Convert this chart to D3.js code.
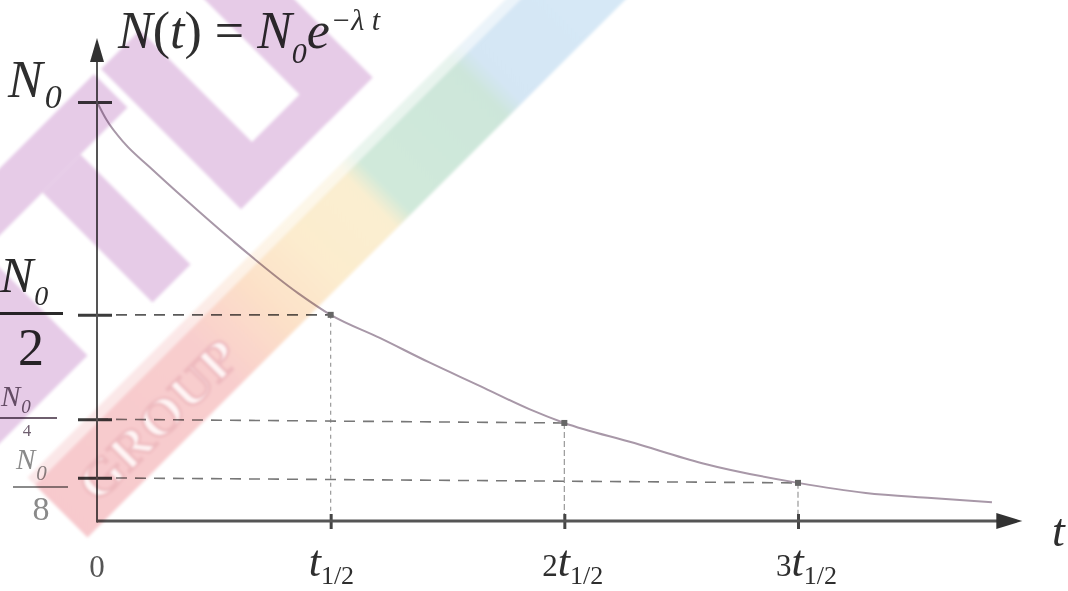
<!DOCTYPE html>
<html>
<head>
<meta charset="utf-8">
<script src="https://cdn.jsdelivr.net/npm/d3@7"></script>
<style>
  html, body { margin: 0; padding: 0; background: #fff; }
  svg { display: block; }
  text { font-family: "Liberation Serif", "DejaVu Serif", serif; }
</style>
</head>
<body>
<div id="ChartWrapper"></div>
<script>
// values, in units of N0 and of t1/2
const curveT = [0, 0.04, 0.12, 0.225, 0.381, 0.576, 0.86, 1.0, 1.21, 1.42, 1.64, 1.85, 2.0, 2.3, 2.59, 3.0, 3.29, 3.57, 3.83];
const curveN = [1.0, 0.958, 0.9, 0.845, 0.766, 0.671, 0.544, 0.492, 0.437, 0.379, 0.322, 0.267, 0.234, 0.186, 0.138, 0.091, 0.067, 0.055, 0.045];

const halfLives = [1, 2, 3];
const halfLifeN = [0.492, 0.234, 0.091];
const halfLifePrefix = ["", "2", "3"];

const yTickVals = [1, 0.492, 0.243, 0.103];
const yTickDenoms = [null, "2", "4", "8"];

const Width = 1068;
const Height = 591;

const ScaleX = d3.scaleLinear().domain([0, 3]).range([97, 798]);
const ScaleY = d3.scaleLinear().domain([0, 1]).range([521, 102]);
const XEnd = 3.96;   // end of the t axis (arrow tip)
const YEnd = 1.153;  // end of the N axis (arrow tip)

let Canvas = d3.select("#ChartWrapper").append("svg")
    .attr("width", Width).attr("height", Height);

let Defs = Canvas.append("defs");
Defs.append("filter").attr("id", "soft").attr("x", "-5%").attr("y", "-5%")
    .attr("width", "110%").attr("height", "110%")
    .append("feGaussianBlur").attr("stdDeviation", 0.55);
Defs.append("filter").attr("id", "wmblur")
    .append("feGaussianBlur").attr("stdDeviation", 1.6);

Canvas.append("rect").attr("width", Width).attr("height", Height).attr("fill", "#fff");

let Plot = Canvas.append("g").attr("filter", "url(#soft)");

// dashed guides from the N axis to the curve, dotted ones down to the t axis
halfLives.forEach((h, i) => {
    Plot.append("line")
        .attr("x1", ScaleX(0)).attr("y1", ScaleY(yTickVals[i + 1]))
        .attr("x2", ScaleX(h)).attr("y2", ScaleY(halfLifeN[i]))
        .attr("stroke", i == 0 ? "#5a5a5a" : "#777").attr("stroke-width", 1.6)
        .attr("stroke-dasharray", "11 8");
    Plot.append("line")
        .attr("x1", ScaleX(h)).attr("y1", ScaleY(halfLifeN[i]))
        .attr("x2", ScaleX(h)).attr("y2", ScaleY(0))
        .attr("stroke", "#999").attr("stroke-width", 1.2)
        .attr("stroke-dasharray", i == 0 ? "4 4" : "6 3");
});

// decay curve
const Data = curveT.map((t, i) => ({t: t, n: curveN[i]}));
let Line = d3.line().x(pp => ScaleX(pp.t)).y(pp => ScaleY(pp.n)).curve(d3.curveMonotoneX);
Plot.append("path").attr("d", Line(Data))
    .attr("fill", "none").attr("stroke", "#a898a8").attr("stroke-width", 2);

Plot.selectAll("rect.mark").data(halfLives).join("rect").attr("class", "mark")
    .attr("x", (h) => ScaleX(h) - 3).attr("y", (h, i) => ScaleY(halfLifeN[i]) - 3)
    .attr("width", 6).attr("height", 6).attr("fill", "#666");

// axes
let AxisX = d3.axisBottom(ScaleX).tickValues(halfLives).tickFormat("").tickSizeOuter(0);
let GX = Plot.append("g").attr("transform", `translate(0, ${ScaleY(0)})`).call(AxisX);
GX.select(".domain").remove();
GX.selectAll(".tick line").attr("y1", -7).attr("y2", 8).attr("stroke", "#444").attr("stroke-width", 3);

let AxisY = d3.axisLeft(ScaleY).tickValues(yTickVals).tickFormat("").tickSizeOuter(0);
let GY = Plot.append("g").attr("transform", `translate(${ScaleX(0)}, 0)`).call(AxisY);
GY.select(".domain").remove();
GY.selectAll(".tick line").attr("x1", -19).attr("x2", 15).attr("stroke", "#3a3a3a").attr("stroke-width", 3);

Plot.append("line")
    .attr("x1", ScaleX(0)).attr("y1", ScaleY(0))
    .attr("x2", ScaleX(XEnd) - 20).attr("y2", ScaleY(0))
    .attr("stroke", "#555").attr("stroke-width", 3);
Plot.append("line")
    .attr("x1", ScaleX(0)).attr("y1", ScaleY(0) + 1.5)
    .attr("x2", ScaleX(0)).attr("y2", ScaleY(YEnd) + 20)
    .attr("stroke", "#555").attr("stroke-width", 2);

const ax = ScaleX(XEnd), ay = ScaleY(0);
Plot.append("path").attr("d", `M${ax},${ay} L${ax - 26},${ay - 8} L${ax - 26},${ay + 8} Z`).attr("fill", "#333");
const bx = ScaleX(0), by = ScaleY(YEnd);
Plot.append("path").attr("d", `M${bx},${by} L${bx - 7},${by + 24} L${bx + 7},${by + 24} Z`).attr("fill", "#333");

// text
function Subscripted(sel, x, y, parts)
{
    let T = sel.append("text").attr("x", x).attr("y", y);
    parts.forEach(pp => {
        T.append("tspan").text(pp.s)
            .attr("font-size", pp.size)
            .attr("font-style", pp.it ? "italic" : "normal")
            .attr("dy", pp.dy || 0).attr("dx", pp.dx || 0);
    });
    return T;
}

let Txt = Plot.append("g").attr("fill", "#2e2e2e");

// formula N(t) = N0 e^(-λt)
Subscripted(Txt, 118, 48, [
    {s: "N", size: 52, it: true}, {s: "(", size: 52}, {s: "t", size: 52, it: true},
    {s: ") = ", size: 52}, {s: "N", size: 52, it: true},
    {s: "0", size: 30, it: true, dy: 15},
    {s: "e", size: 52, it: true, dy: -15},
    {s: "−λ t", size: 30, it: true, dy: -18, dx: 1}
]);

// N axis labels
Subscripted(Txt, 8, ScaleY(yTickVals[0]) - 5, [
    {s: "N", size: 52, it: true}, {s: "0", size: 34, it: true, dy: 11, dx: 2}
]);

const fracStyle = [
    null,
    {nx: 0, nb: 292, nSize: 50, sSize: 28, sDy: 13, lx1: 0, lx2: 63, ly: 313.5, lw: 3, dx: 31, db: 365, dSize: 52, fill: "#2a2a2a"},
    {nx: 1, nb: 406, nSize: 29, sSize: 19, sDy: 7, lx1: 0, lx2: 57, ly: 418, lw: 2, dx: 27, db: 436, dSize: 17, fill: "#6e5e6e"},
    {nx: 16, nb: 469, nSize: 29, sSize: 21, sDy: 11, lx1: 13, lx2: 68, ly: 487, lw: 2, dx: 41, db: 520, dSize: 34, fill: "#8a8a8a"}
];
yTickDenoms.forEach((dn, i) => {
    if(dn == null) return;
    const f = fracStyle[i];
    let G = Plot.append("g").attr("fill", f.fill);
    Subscripted(G, f.nx, f.nb, [
        {s: "N", size: f.nSize, it: true}, {s: "0", size: f.sSize, it: true, dy: f.sDy, dx: 1}
    ]);
    G.append("line").attr("x1", f.lx1).attr("x2", f.lx2).attr("y1", f.ly).attr("y2", f.ly)
        .attr("stroke", f.fill).attr("stroke-width", f.lw);
    G.append("text").attr("x", f.dx).attr("y", f.db).attr("text-anchor", "middle")
        .attr("font-size", f.dSize).text(dn);
});

// t axis labels
Txt.append("text").attr("x", ScaleX(0)).attr("y", 577).attr("text-anchor", "middle")
    .attr("font-size", 31).attr("fill", "#555").text("0");
halfLives.forEach((h, i) => {
    let parts = [];
    if(halfLifePrefix[i] != "") parts.push({s: halfLifePrefix[i], size: 31});
    parts.push({s: "t", size: 44, it: true});
    parts.push({s: "1/2", size: 26, dy: 8});
    Subscripted(Txt, ScaleX(h) - 22, 576, parts);
});
Txt.append("text").attr("x", 1052).attr("y", 546).attr("font-size", 46)
    .attr("font-style", "italic").text("t");

// watermark, drawn on top and multiplied like the scanned original
function Band(s0, s1, d0, d1)
{
    // rectangle in rotated coordinates s = x + y, d = x - y
    return [[s0, d0], [s0, d1], [s1, d1], [s1, d0]]
        .map(([s, d]) => [(s + d) / 2, (s - d) / 2]);
}
const Rainbow = Defs.append("linearGradient").attr("id", "rainbow")
    .attr("gradientUnits", "userSpaceOnUse")
    .attr("x1", 60).attr("y1", 510).attr("x2", 595).attr("y2", -25);
[[0, "#f7c9cd"], [0.28, "#f8cdcd"], [0.385, "#fce0c8"], [0.477, "#fcecce"],
 [0.579, "#faeed0"], [0.607, "#d0e9da"], [0.785, "#cde6da"], [0.813, "#d4e6f4"], [1, "#d6e8f6"]]
    .forEach(([o, c]) => Rainbow.append("stop").attr("offset", o).attr("stop-color", c));

let WM = Canvas.append("g").style("mix-blend-mode", "multiply").attr("filter", "url(#wmblur)");
const Purple = "#e6cbe7";
const Pieces = [
    Band(168, 235, -260, 20),   // T bar
    Band(235, 455, -150, -74),  // T stem
    Band(250, 443, -700, -268), // piece at the left edge
    Band(170, 450, 32, 110),    // U left arm
    Band(394, 450, 32, 295),    // U bottom
    Band(150, 450, 205, 295)    // U right arm
];
WM.selectAll("polygon.wm").data(Pieces).join("polygon").attr("class", "wm")
    .attr("points", pp => pp.join(" ")).attr("fill", Purple);
WM.append("polygon").attr("points", Band(505, 520, -450, 700).join(" "))
    .attr("fill", "url(#rainbow)").attr("opacity", 0.45);
WM.append("polygon").attr("points", Band(520, 625, -450, 700).join(" "))
    .attr("fill", "url(#rainbow)");
WM.append("text").attr("transform", "translate(158,420) rotate(-45)")
    .attr("text-anchor", "middle").attr("dy", 17)
    .attr("font-family", "DejaVu Sans").attr("font-weight", "bold")
    .attr("font-size", 50).attr("textLength", 205).attr("lengthAdjust", "spacingAndGlyphs")
    .attr("fill", "#fff6f6").attr("stroke", "#eeb9be").attr("stroke-width", 2.5)
    .text("GROUP");
</script>
</body>
</html>
